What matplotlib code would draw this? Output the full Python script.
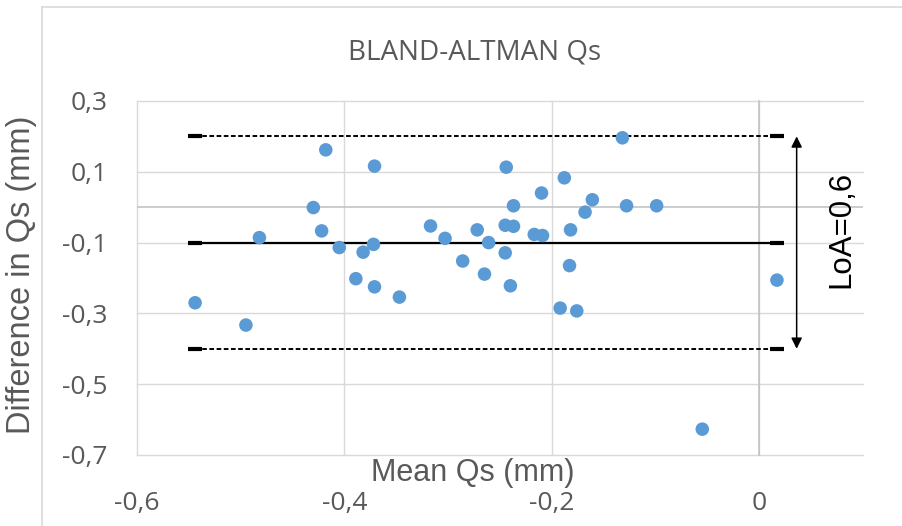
import matplotlib
matplotlib.use('Agg')
import matplotlib.pyplot as plt
from matplotlib.lines import Line2D

# Bland-Altman data
mean_qs = [-0.544, -0.495, -0.482, -0.418, -0.430, -0.422, -0.405, -0.389, -0.382, -0.371,
           -0.372, -0.371, -0.347, -0.317, -0.303, -0.286, -0.272, -0.265, -0.261, -0.244,
           -0.245, -0.237, -0.237, -0.245, -0.240, -0.210, -0.217, -0.209, -0.188, -0.182,
           -0.183, -0.192, -0.176, -0.168, -0.161, -0.132, -0.128, -0.099, 0.017, -0.055]
diff_qs = [-0.270, -0.333, -0.086, 0.162, -0.001, -0.067, -0.114, -0.202, -0.127, 0.116,
           -0.105, -0.225, -0.254, -0.053, -0.088, -0.152, -0.064, -0.189, -0.100, 0.113,
           -0.051, -0.054, 0.004, -0.129, -0.222, 0.040, -0.077, -0.080, 0.083, -0.064,
           -0.165, -0.285, -0.293, -0.014, 0.021, 0.196, 0.004, 0.004, -0.206, -0.627]

bias = -0.1
loa_upper = 0.2
loa_lower = -0.4
loa_label = 'LoA=0,6'

x_ticks = [-0.6, -0.4, -0.2, 0]
x_tick_labels = ['-0,6', '-0,4', '-0,2', '0']
y_ticks = [0.3, 0.1, -0.1, -0.3, -0.5, -0.7]
y_tick_labels = ['0,3', '0,1', '-0,1', '-0,3', '-0,5', '-0,7']

txt_color = '#595959'
grid_color = '#d9d9d9'
dot_color = '#5b9bd5'

fig = plt.figure(figsize=(9.02, 5.26), dpi=100)
ax = fig.add_axes([0.1519, 0.1350, 0.8049, 0.6730])

ax.set_xlim(-0.6, 0.1)
ax.set_ylim(-0.7, 0.3)
for s in ax.spines.values():
    s.set_visible(False)

ax.set_xticks(x_ticks)
ax.set_xticklabels(x_tick_labels, family='Open Sans')
ax.set_yticks(y_ticks)
ax.set_yticklabels(y_tick_labels, family='Open Sans')
ax.tick_params(axis='x', length=0, pad=26, labelsize=19, labelcolor=txt_color)
ax.tick_params(axis='y', length=0, pad=21, labelsize=19, labelcolor=txt_color)
ax.grid(True, color=grid_color, lw=1.0, zorder=0)
for gl in ax.get_xgridlines() + ax.get_ygridlines():
    gl.set_clip_on(False)
ax.set_axisbelow(True)

# axis lines through zero
ax.axhline(0, color='#bfbfbf', lw=1.1, zorder=1)
ax.axvline(0, color='#bfbfbf', lw=1.1, zorder=1, clip_on=False)

x0, x1 = min(mean_qs), max(mean_qs)
ax.plot([x0, x1], [bias, bias], color='black', lw=1.6, marker='_', ms=10, mew=3, zorder=2)
for lim in [loa_upper, loa_lower]:
    ax.plot([x0, x1], [lim, lim], color='black', lw=1.4, dashes=(2.4, 1.3),
            marker='_', ms=10, mew=3, zorder=2)

ax.scatter(mean_qs, diff_qs, s=95, color=dot_color, edgecolors='none', zorder=3)

ax.annotate('', xy=(0.036, loa_upper), xytext=(0.036, loa_lower),
            arrowprops=dict(arrowstyle='<|-|>', color='black', lw=1.1,
                            mutation_scale=16, shrinkA=0, shrinkB=0))
ax.text(0.079, (loa_upper + loa_lower) / 2 + 0.036, loa_label, rotation=90,
        ha='center', va='center', fontsize=22.5, family='Liberation Sans', color='black')

fig.text(474.5 / 902, 1 - 52.5 / 526, 'BLAND-ALTMAN Qs', ha='center', va='center',
         fontsize=20, family='Open Sans', color=txt_color)
fig.text(472.5 / 902, 1 - 481 / 526, 'Mean Qs (mm)', ha='center', va='baseline',
         fontsize=22, family='Liberation Sans', color=txt_color)
fig.text(22 / 902, 1 - 274.5 / 526, 'Difference in Qs (mm)', ha='center', va='center',
         rotation=90, fontsize=23.5, family='Liberation Sans', color=txt_color)

# chart area border (left and top edges visible)
fig.add_artist(Line2D([42 / 902, 42 / 902], [0, 1 - 7 / 526], color=grid_color, lw=1.2,
                      transform=fig.transFigure))
fig.add_artist(Line2D([42 / 902, 1], [1 - 7 / 526, 1 - 7 / 526], color=grid_color, lw=1.2,
                      transform=fig.transFigure))

fig.savefig('out.png', dpi=100)
